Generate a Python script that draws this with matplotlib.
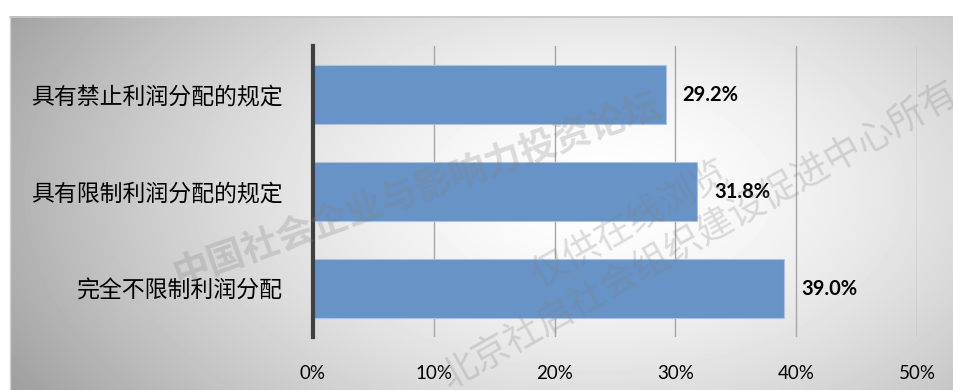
import numpy as np
import matplotlib.pyplot as plt

# data
categories = ["具有禁止利润分配的规定", "具有限制利润分配的规定", "完全不限制利润分配"]
shares = [29.2, 31.8, 39.0]
ticks = [0, 10, 20, 30, 40, 50]
tick_labels = ["0%", "10%", "20%", "30%", "40%", "50%"]

W, H = 954, 390
fig = plt.figure(figsize=(W / 100, H / 100), dpi=100)

# grey radial backdrop behind the chart
bg = fig.add_axes([0, 0, 1, 1], zorder=-2)
yy, xx = np.mgrid[0:H, 0:W]
r = np.sqrt(((xx - 600) / 560.0) ** 2 + ((yy - 190) / 330.0) ** 2)
shade = 1.0 - 0.28 * np.clip(r, 0, 1.2) ** 1.6
shade[:16, :] = 1.0
shade[:, :10] = 1.0
bg.imshow(shade, cmap="gray", vmin=0, vmax=1, extent=[0, W, H, 0], aspect="auto")
bg.plot([10, W], [16.5, 16.5], color="#c8c8c8", lw=1.2)
bg.plot([10.5, 10.5], [16, H], color="#d0d0d0", lw=1.0)
bg.set_xlim(0, W)
bg.set_ylim(H, 0)
bg.axis("off")

ax = fig.add_axes([313 / W, 1 - 337 / H, (917 - 313) / W, (337 - 46) / H])
ax.set_facecolor("none")

pos = np.arange(len(categories))
ax.barh(pos, shares, height=0.61, color="#6893c7", edgecolor="#a8c3e4",
        linewidth=0.8, zorder=2)
for p, v in zip(pos, shares):
    ax.text(v + 1.4, p, f"{v:.1f}%", va="center", ha="left",
            fontsize=14.5, fontweight="bold", family="Lato", zorder=3)

ax.set_ylim(len(categories) - 0.5, -0.5)
ax.set_xlim(0, 50)
ax.set_xticks(ticks)
ax.set_xticklabels(tick_labels, family="Lato", fontsize=13.5)
ax.set_yticks(pos)
ax.set_yticklabels(categories, family="Noto Sans CJK SC", fontsize=16.5)
ax.tick_params(axis="x", length=0, pad=20)
ax.tick_params(axis="y", length=0, pad=22)
ax.grid(axis="x", color="#a6a6a6", lw=1.0, zorder=1)
for s in ["top", "right", "bottom"]:
    ax.spines[s].set_visible(False)
ax.spines["left"].set_color("#404040")
ax.spines["left"].set_linewidth(3)
ax.spines["left"].set_zorder(4)

# overlaid watermark lines
wm = dict(color="#808080", alpha=0.26, family="Noto Sans CJK SC",
          ha="center", va="center", zorder=10)
fig.text(418 / W, 1 - 191 / H, "中国社会企业与影响力投资论坛",
         fontsize=26.5, rotation=19.5, fontweight="bold", **wm)
fig.text(630 / W, 1 - 224 / H, "仅供在线浏览", fontsize=26.5, rotation=29.5, **wm)
fig.text(700 / W, 1 - 235 / H, "北京社启社会组织建设促进中心所有",
         fontsize=26.5, rotation=29.5, **wm)

fig.savefig("out.png", dpi=100)
